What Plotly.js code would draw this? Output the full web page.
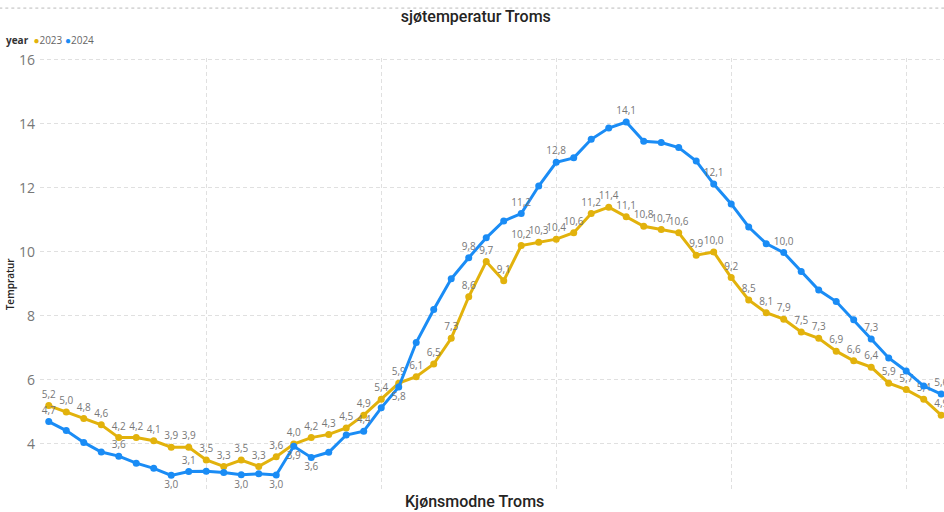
<!DOCTYPE html>
<html><head><meta charset="utf-8">
<script src="https://cdn.plot.ly/plotly-3.0.1.min.js"></script>
<style>html,body{margin:0;padding:0;background:#fff;overflow:hidden}</style>
</head><body><div id="chart" style="width:944px;height:512px"></div>
<script>
const weeks = [1,2,3,4,5,6,7,8,9,10,11,12,13,14,15,16,17,18,19,20,21,22,23,24,25,26,27,28,29,30,31,32,33,34,35,36,37,38,39,40,41,42,43,44,45,46,47,48,49,50,51,52];
const temp2023 = [5.2,5.0,4.8,4.6,4.2,4.2,4.1,3.9,3.9,3.5,3.3,3.5,3.3,3.6,4.0,4.2,4.3,4.5,4.9,5.4,5.9,6.1,6.5,7.3,8.6,9.7,9.1,10.2,10.3,10.4,10.6,11.2,11.4,11.1,10.8,10.7,10.6,9.9,10.0,9.2,8.5,8.1,7.9,7.5,7.3,6.9,6.6,6.4,5.9,5.7,5.4,4.9];
const temp2024 = [4.7,4.42,4.05,3.75,3.62,3.4,3.24,3.02,3.14,3.15,3.11,3.04,3.07,3.03,3.93,3.58,3.74,4.28,4.4,5.13,5.78,7.17,8.2,9.16,9.82,10.44,10.97,11.2,12.06,12.8,12.94,13.52,13.87,14.06,13.46,13.42,13.26,12.84,12.12,11.5,10.78,10.26,9.98,9.39,8.81,8.45,7.88,7.28,6.69,6.28,5.81,5.56];
const years = ['2023','2024'];
// which 2024 points carry a data label
const labeled2024 = [1,5,8,9,12,14,15,16,19,21,25,28,30,34,39,43,48,52];
const below2024 = [8,12,14,15,16,21];

const fmt = v => v.toFixed(1).replace('.', ',');
const c23 = '#E2B20C', c24 = '#1A8CF5';

const t23 = {
  x: weeks, y: temp2023, type: 'scatter', mode: 'lines+markers+text', name: years[0],
  line: {color: c23, width: 3}, marker: {color: c23, size: 7},
  text: temp2023.map(fmt), textposition: 'top center',
  textfont: {family: 'Open Sans, sans-serif', size: 10, color: '#777'},
  cliponaxis: false, hoverinfo: 'x+y'
};
const t24 = {
  x: weeks, y: temp2024, type: 'scatter', mode: 'lines+markers+text', name: years[1],
  line: {color: c24, width: 3}, marker: {color: c24, size: 7},
  text: weeks.map((w, i) => labeled2024.includes(w) ? fmt(temp2024[i]) : ''),
  textposition: weeks.map(w => below2024.includes(w) ? 'bottom center' : 'top center'),
  textfont: {family: 'Open Sans, sans-serif', size: 10, color: '#777'},
  cliponaxis: false, hoverinfo: 'x+y'
};

const layout = {
  width: 944, height: 512,
  margin: {l: 40, r: 0, t: 58, b: 20},
  paper_bgcolor: '#fff', plot_bgcolor: '#fff',
  showlegend: false,
  title: {text: 'sjøtemperatur Troms', x: 0.504, xref: 'container', xanchor: 'center',
          y: 0.967, yref: 'container', yanchor: 'middle',
          font: {family: 'Roboto, sans-serif', size: 16, color: '#252423', weight: 500}},
  xaxis: {range: [0.5, 52.16], dtick: 10, tick0: 0, showticklabels: false, ticks: '',
          showgrid: true, gridcolor: '#e0e0e0', griddash: '4px,3px', gridwidth: 1,
          zeroline: false, showline: false},
  yaxis: {range: [2.5, 16.06], tickvals: [4, 6, 8, 10, 12, 14, 16], ticks: '',
          tickfont: {family: 'Open Sans, sans-serif', size: 14, color: '#777'},
          showgrid: true, gridcolor: '#e0e0e0', griddash: '4px,3px', gridwidth: 1,
          zeroline: false, showline: false, ticklabelstandoff: 4},
  shapes: [{type: 'line', xref: 'paper', yref: 'paper', x0: -0.045, x1: 1, y0: 1.115, y1: 1.115,
            line: {color: '#bbb', width: 1, dash: 'dot'}}],
  annotations: [
    {text: 'Kjønsmodne Troms', xref: 'paper', yref: 'paper', x: 0.481, y: -0.023,
     xanchor: 'center', yanchor: 'middle', showarrow: false,
     font: {family: 'Roboto, sans-serif', size: 16, color: '#252423', weight: 500}},
    {text: 'Tempratur', xref: 'paper', yref: 'paper', x: -0.033, y: 0.479, textangle: -90,
     xanchor: 'center', yanchor: 'middle', showarrow: false,
     font: {family: 'Open Sans, sans-serif', size: 10, color: '#252423', weight: 600}},
    {text: '<b>year</b>  <span style="color:' + c23 + '">●</span><span style="color:#666">' + years[0] +
           '</span> <span style="color:' + c24 + '">●</span><span style="color:#666">' + years[1] + '</span>',
     xref: 'paper', yref: 'paper', x: -0.04, y: 1.042, xanchor: 'left', yanchor: 'middle', showarrow: false,
     font: {family: 'Open Sans, sans-serif', size: 10, color: '#333'}}
  ]
};
Plotly.newPlot('chart', [t23, t24], layout, {displayModeBar: false, staticPlot: true});
</script></body></html>
